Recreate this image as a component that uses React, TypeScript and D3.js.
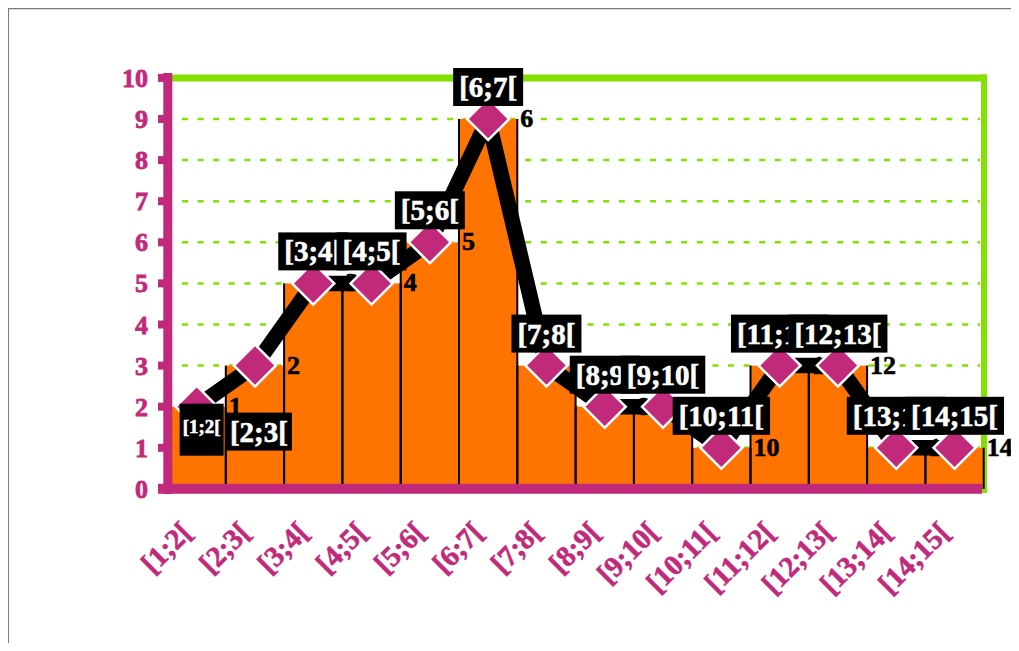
import React from "react";
import * as d3 from "d3";

const categories = [
  "[1;2[", "[2;3[", "[3;4[", "[4;5[", "[5;6[", "[6;7[", "[7;8[",
  "[8;9[", "[9;10[", "[10;11[", "[11;12[", "[12;13[", "[13;14[", "[14;15[",
];
const counts = [2, 3, 5, 5, 6, 9, 3, 2, 2, 1, 3, 3, 1, 1];
const indexLabels = ["1", "2", "3", "4", "5", "6", "7", "8", "9", "10", "11", "12", "13", "14"];
const yTicks = [0, 1, 2, 3, 4, 5, 6, 7, 8, 9, 10];
const gridTicks = [1, 2, 3, 4, 5, 6, 7, 8, 9];

const PINK = "#c1297b";
const ORANGE = "#ff7300";
const GREEN = "#84e000";
const FONT = "'Liberation Serif', 'Times New Roman', serif";

let ctx: CanvasRenderingContext2D | null = null;
function measure(text: string, size: number): number {
  if (!ctx) ctx = document.createElement("canvas").getContext("2d");
  if (!ctx) return text.length * size * 0.45;
  ctx.font = `bold ${size}px ${FONT}`;
  return ctx.measureText(text).width;
}

export default function App() {
  const x = d3.scaleBand<string>().domain(categories).range([167.5, 983.7]).padding(0);
  const y = d3.scaleLinear().domain([0, 10]).range([488.9, 77.9]);
  const bw = x.bandwidth();
  const cx = (i: number) => (x(categories[i]) as number) + bw / 2;

  const linePath = d3
    .line<number>()
    .x((_, i) => cx(i))
    .y((d) => y(d))(counts) as string;

  const diamond = d3.symbol().type(d3.symbolSquare).size(2 * 21 * 21)();

  return (
    <svg width={1011} height={635} style={{ display: "block", overflow: "hidden" }}>
      <g transform="translate(-8,-8)">
        {/* page frame */}
        <line x1={8} x2={1019} y1={8.5} y2={8.5} stroke="#7a7a7a" strokeWidth={1.5} />
        <line x1={8.5} x2={8.5} y1={8} y2={651} stroke="#7a7a7a" strokeWidth={1} />

        {/* grid */}
        {gridTicks.map((t) => (
          <line
            key={"g" + t}
            x1={182}
            x2={980}
            y1={y(t)}
            y2={y(t)}
            stroke={GREEN}
            strokeWidth={2.5}
            strokeDasharray="6 9.6"
          />
        ))}
        {/* green frame */}
        <line x1={172} x2={987} y1={y(10)} y2={y(10)} stroke={GREEN} strokeWidth={7} />
        <line x1={984} x2={984} y1={74.5} y2={493} stroke={GREEN} strokeWidth={6} />

        {/* bars */}
        {counts.map((v, i) => {
          const x0 = x(categories[i]) as number;
          return (
            <rect key={"b" + i} x={x0} y={y(v)} width={bw} height={y(0) - y(v)} fill={ORANGE} />
          );
        })}
        {counts.map((v, i) => {
          const x0 = x(categories[i]) as number;
          return (
            <g key={"e" + i}>
              <line x1={x0} x2={x0} y1={y(0)} y2={y(v)} stroke="#000" strokeWidth={2} />
              <line x1={x0 + bw} x2={x0 + bw} y1={y(0)} y2={y(v)} stroke="#000" strokeWidth={2} />
            </g>
          );
        })}

        {/* pink axes */}
        <line x1={167.8} x2={167.8} y1={73} y2={494} stroke={PINK} strokeWidth={9} />
        {yTicks.map((t) => (
          <line key={"t" + t} x1={158} x2={168} y1={y(t)} y2={y(t)} stroke={PINK} strokeWidth={8} />
        ))}
        <line x1={158} x2={982} y1={488.7} y2={488.7} stroke={PINK} strokeWidth={10} />

        {/* y tick labels */}
        {yTicks.map((t) => (
          <text
            key={"yl" + t}
            x={148}
            y={y(t) + 9}
            textAnchor="end"
            fontFamily={FONT}
            fontWeight="bold"
            fontSize={26}
            fill={PINK}
            stroke={PINK}
            strokeWidth={0.8}
          >
            {t}
          </text>
        ))}

        {/* x tick labels */}
        {categories.map((c, i) => (
          <text
            key={"xl" + i}
            transform={`translate(${cx(i) - 3},${534}) rotate(-45)`}
            textAnchor="end"
            fontFamily={FONT}
            fontWeight="bold"
            fontSize={29}
            fill={PINK}
            stroke={PINK}
            strokeWidth={0.6}
          >
            {c}
          </text>
        ))}

        {/* thick black line */}
        <path d={linePath} fill="none" stroke="#000" strokeWidth={15.5} strokeLinejoin="round" />

        {/* index labels */}
        {counts.map((v, i) => (
          <text
            key={"il" + i}
            x={(x(categories[i]) as number) + bw + 3}
            y={y(v) + 8}
            fontFamily={FONT}
            fontWeight="bold"
            fontSize={26}
            fill="#000"
            stroke="#000"
            strokeWidth={0.6}
          >
            {indexLabels[i]}
          </text>
        ))}

        {/* diamonds */}
        {counts.map((v, i) => (
          <path
            key={"d" + i}
            d={diamond as string}
            transform={`translate(${cx(i)},${y(v)}) rotate(45)`}
            fill={PINK}
            stroke="#fff"
            strokeWidth={2.5}
          />
        ))}

        {/* data label boxes */}
        {categories.map((c, i) => {
          const px = cx(i);
          const py = y(counts[i]);
          let size = 29;
          let bx: number, by: number, bwid: number, bh = 38, tx: number, ty: number;
          if (i === 0) {
            size = 19;
            bwid = measure(c, size) + 6;
            bx = px - 17;
            by = py - 3;
            bh = 52;
            tx = bx + bwid / 2;
            ty = by + 29;
          } else if (i === 1) {
            bwid = measure(c, size) + 8;
            bx = px - bwid / 2 + 4;
            by = py + 47;
            tx = bx + bwid / 2;
            ty = by + bh - 9;
          } else {
            bwid = measure(c, size) + 12;
            bx = px - bwid / 2;
            by = py - 13 - bh;
            tx = px;
            ty = by + bh - 9;
          }
          return (
            <g key={"lb" + i}>
              <rect x={bx} y={by} width={bwid} height={bh} fill="#000" />
              <text
                x={tx}
                y={ty}
                textAnchor="middle"
                fontFamily={FONT}
                fontWeight="bold"
                fontSize={size}
                fill="#fff"
                stroke="#fff"
                strokeWidth={0.6}
              >
                {c}
              </text>
            </g>
          );
        })}
      </g>
    </svg>
  );
}
